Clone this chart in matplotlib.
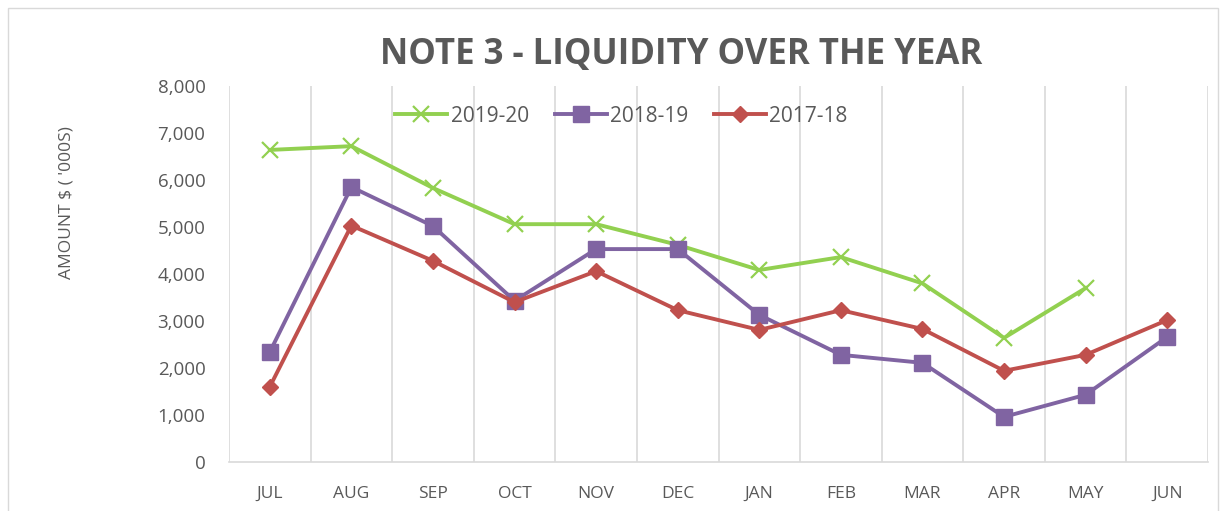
import matplotlib
matplotlib.use("Agg")
import matplotlib.pyplot as plt
from matplotlib.patches import Rectangle

months = ["JUL", "AUG", "SEP", "OCT", "NOV", "DEC", "JAN", "FEB", "MAR", "APR", "MAY", "JUN"]
s2019_20 = [6640, 6720, 5830, 5060, 5060, 4620, 4085, 4360, 3800, 2640, 3700]
s2018_19 = [2340, 5850, 5020, 3430, 4530, 4530, 3130, 2280, 2110, 960, 1430, 2660]
s2017_18 = [1600, 5030, 4280, 3400, 4060, 3230, 2810, 3230, 2830, 1940, 2280, 3020]
yticks = [0, 1000, 2000, 3000, 4000, 5000, 6000, 7000, 8000]

plt.rcParams['font.family'] = ['Open Sans', 'DejaVu Sans']
txt = '#595959'

fig = plt.figure(figsize=(12.24, 5.11), dpi=100)
fig.patches.append(Rectangle((8/1224, -0.01), 1210/1224, 1 - 8/511 + 0.01, transform=fig.transFigure,
                             fill=False, edgecolor='#D9D9D9', linewidth=1))
ax = fig.add_axes([229/1224, 49/511, 979/1224, 376/511])

x = list(range(len(months)))
ax.plot(x[:len(s2019_20)], s2019_20, color='#92D050', lw=2.8, marker='x', ms=11, mew=1.6, label='2019-20', zorder=3)
ax.plot(x, s2018_19, color='#8064A2', lw=2.8, marker='s', ms=11, label='2018-19', zorder=3)
ax.plot(x, s2017_18, color='#C0504D', lw=2.8, marker='D', ms=8.5, label='2017-18', zorder=3)

ax.set_xlim(-0.5, len(months) - 0.5)
ax.set_ylim(0, 8000)
ax.set_xticks(x)
ax.set_xticklabels(months)
ax.set_xticks([i - 0.5 for i in range(len(months) + 1)], minor=True)
ax.grid(which='minor', axis='x', color='#D9D9D9', lw=1.2)
ax.tick_params(axis='x', which='both', length=0, pad=17, labelsize=12.5, labelcolor=txt)
ax.set_yticks(yticks)
ax.set_yticklabels([f"{v:,}" for v in yticks])
ax.tick_params(axis='y', length=0, pad=17, labelsize=13.5, labelcolor=txt)
for sp in ['top', 'right', 'left']:
    ax.spines[sp].set_visible(False)
ax.spines['bottom'].set_color('#D9D9D9')
ax.spines['bottom'].set_linewidth(1.2)

ax.set_ylabel("AMOUNT $ ( '000S)", fontsize=12.5, color=txt)
ax.yaxis.set_label_coords(-0.158, 0.69)

fig.text(681/1224, 1 - 55/511, "NOTE 3 - LIQUIDITY OVER THE YEAR", ha='center', va='center',
         fontsize=25, fontweight='bold', color=txt)

leg = ax.legend(loc='center', bbox_to_anchor=(0.401, 0.92), ncol=3, frameon=False,
                fontsize=15, handlelength=2.5, columnspacing=1.25, handletextpad=0.15,
                borderpad=0, borderaxespad=0)
for t in leg.get_texts():
    t.set_color(txt)

fig.savefig('out.png', dpi=100)
